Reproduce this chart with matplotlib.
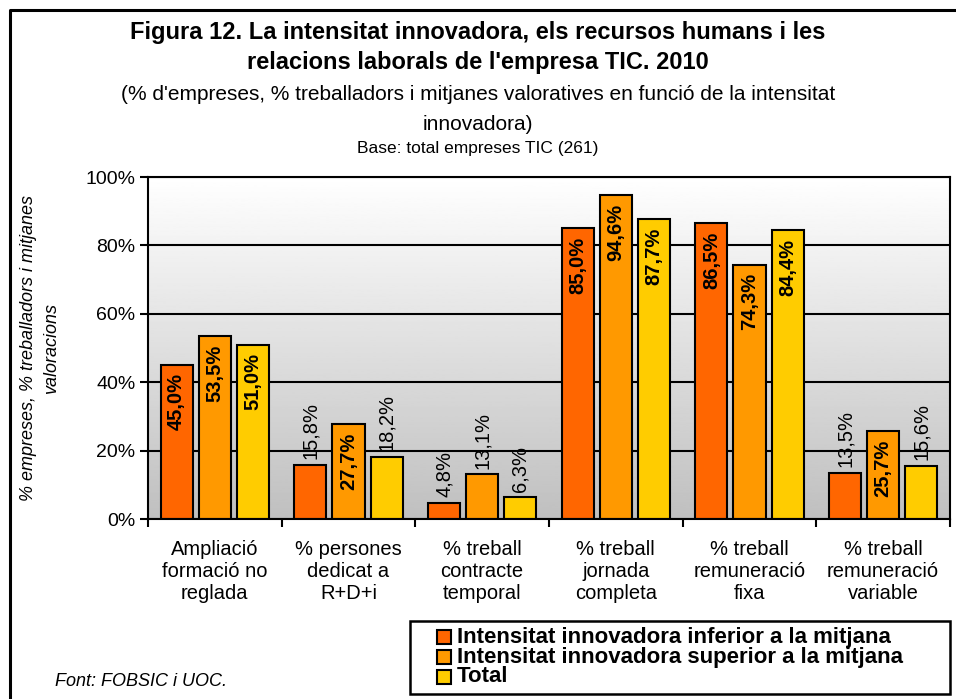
import matplotlib.pyplot as plt
import numpy as np
from matplotlib.lines import Line2D
from matplotlib.patches import Rectangle

plt.rcParams["font.family"] = ["Liberation Sans", "DejaVu Sans"]

categories = [
    "Ampliació\nformació no\nreglada",
    "% persones\ndedicat a\nR+D+i",
    "% treball\ncontracte\ntemporal",
    "% treball\njornada\ncompleta",
    "% treball\nremuneració\nfixa",
    "% treball\nremuneració\nvariable",
]
series_names = [
    "Intensitat innovadora inferior a la mitjana",
    "Intensitat innovadora superior a la mitjana",
    "Total",
]
lower = [45.0, 15.8, 4.8, 85.0, 86.5, 13.5]
upper = [53.5, 27.7, 13.1, 94.6, 74.3, 25.7]
total = [51.0, 18.2, 6.3, 87.7, 84.4, 15.6]
colors = ["#FF6600", "#FF9900", "#FFCC00"]
yticks = [0, 20, 40, 60, 80, 100]

W, H = 956, 699
fig = plt.figure(figsize=(W / 100, H / 100), dpi=100)


def fx(px):
    return px / W


def fy(py):
    return 1 - py / H


ax = fig.add_axes([fx(148), fy(519), fx(950) - fx(148), fy(177) - fy(519)])

# gradient background (white at top, grey at bottom)
grad = np.linspace(0.75, 1.0, 256).reshape(-1, 1)
ax.imshow(grad, extent=[-0.5, 5.5, 0, 100], origin="lower", aspect="auto",
          cmap="gray", vmin=0, vmax=1, zorder=0)

x = np.arange(len(categories))
width = 0.24
offs = [-0.285, 0, 0.285]
for vals, off, col in zip([lower, upper, total], offs, colors):
    bars = ax.bar(x + off, vals, width, color=col, edgecolor="black",
                  linewidth=1.5, zorder=3)
    for b, v in zip(bars, vals):
        txt = f"{v:.1f}%".replace(".", ",")
        cx = b.get_x() + b.get_width() / 2
        if v >= 20:
            ax.annotate(txt, (cx, v), xytext=(0, -6), textcoords="offset points",
                        rotation=90, ha="center", va="top", fontsize=14.5,
                        fontweight="bold", zorder=5)
        else:
            ax.annotate(txt, (cx, v), xytext=(0, 4), textcoords="offset points",
                        rotation=90, ha="center", va="bottom", fontsize=14.5,
                        zorder=2)

ax.set_xlim(-0.5, 5.5)
ax.set_ylim(0, 100)
ax.set_yticks(yticks)
ax.set_yticklabels([f"{t}%" for t in yticks], fontsize=14)
ax.yaxis.grid(True, color="black", linewidth=1.5, zorder=1)
ax.set_axisbelow(False)
ax.set_xticks(np.arange(-0.5, 6, 1))
ax.set_xticklabels([])
ax.tick_params(axis="both", direction="out", length=6, width=1.5, colors="black")
ax.tick_params(axis="y", pad=3)
for s in ax.spines.values():
    s.set_linewidth(1.5)
    s.set_zorder(4)

for i, c in enumerate(categories):
    ax.annotate(c, (i, 0), xycoords=("data", "axes fraction"), xytext=(0, -15),
                textcoords="offset points", ha="center", va="top",
                fontsize=14.5, linespacing=1.2)

fig.text(fx(40), fy(348), "% empreses, % treballadors i mitjanes\nvaloracions",
         rotation=90, ha="center", va="center", fontsize=13,
         fontstyle="italic", linespacing=1.4, multialignment="center")

# titles
fig.text(0.5, fy(32), "Figura 12. La intensitat innovadora, els recursos humans i les",
         ha="center", va="center", fontsize=17, fontweight="bold")
fig.text(0.5, fy(62), "relacions laborals de l'empresa TIC. 2010",
         ha="center", va="center", fontsize=17, fontweight="bold")
fig.text(0.5, fy(94), "(% d'empreses, % treballadors i mitjanes valoratives en funció de la intensitat",
         ha="center", va="center", fontsize=15)
fig.text(0.5, fy(124), "innovadora)", ha="center", va="center", fontsize=15)
fig.text(0.5, fy(149), "Base: total empreses TIC (261)", ha="center", va="center",
         fontsize=12.5)
fig.text(fx(55), fy(682), "Font: FOBSIC i UOC.", ha="left", va="center",
         fontsize=13, fontstyle="italic")

# legend, drawn by hand to follow the tight Excel layout
fig.add_artist(Rectangle((fx(410), fy(694)), fx(950) - fx(410), fy(621) - fy(694),
                         transform=fig.transFigure, facecolor="white",
                         edgecolor="black", linewidth=1.8))
for name, col, ry in zip(series_names, colors, [637, 657, 677]):
    fig.add_artist(Rectangle((fx(437), fy(ry + 7)), fx(14), fy(ry - 7) - fy(ry + 7),
                             transform=fig.transFigure, facecolor=col,
                             edgecolor="black", linewidth=1.5))
    fig.text(fx(457), fy(ry), name, ha="left", va="center", fontsize=16,
             fontweight="bold")

# outer frame
fig.add_artist(Line2D([fx(10), fx(10), 1.0], [0, fy(10), fy(10)],
                      transform=fig.transFigure, color="black", linewidth=2.2))

fig.savefig("out.png", dpi=100)
